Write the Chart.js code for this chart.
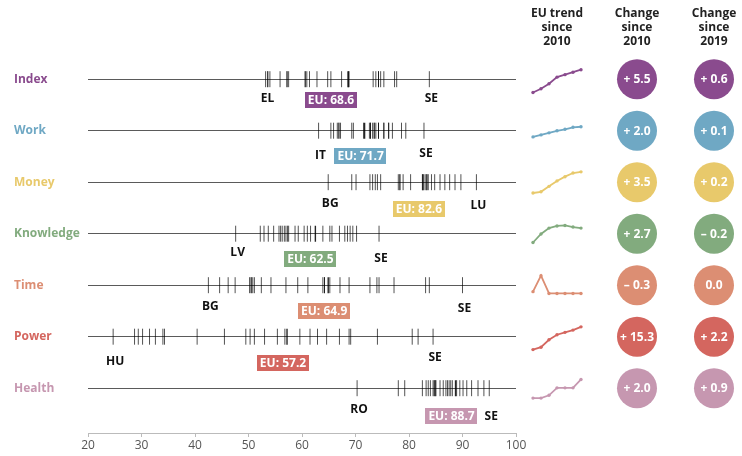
<!DOCTYPE html>
<html>
<head>
<meta charset="utf-8">
<script src="https://cdn.jsdelivr.net/npm/chart.js@4.4.1/dist/chart.umd.min.js"></script>
<style>
  body { margin: 0; background: #fff; }
  #wrap { position: relative; width: 742px; height: 456px; }
  #wrap canvas { position: absolute; }
</style>
</head>
<body>
<div id="wrap">
  <canvas id="strip" width="742" height="456" style="left:0;top:0"></canvas>
  <canvas id="circles" width="222" height="456" style="left:520px;top:0"></canvas>
</div>
<script>
// domains (rows) and their colours
var domains = ["Index", "Work", "Money", "Knowledge", "Time", "Power", "Health"];
var colors = ["#8a4b8e", "#6fa8c4", "#e8c96b", "#82ab7e", "#dc8e73", "#d4665f", "#c697b0"];

// member state scores per domain
var indexScores = [53.2, 53.6, 53.6, 54.0, 55.9, 57.2, 57.2, 57.5, 60.6, 60.6, 60.9, 61.4, 62.8, 64.8,
  65.4, 67.4, 68.7, 68.8, 73.3, 73.8, 74.3, 74.3, 74.7, 75.3, 77.3, 77.7, 83.8];
var workScores = [63.1, 65.4, 65.9, 66.6, 66.9, 66.9, 67.2, 69.3, 69.6, 71.5, 72.6, 72.8, 72.8, 73.2,
  73.5, 73.5, 73.8, 74.3, 74.3, 75.3, 75.3, 76.2, 76.2, 76.9, 78.6, 79.4, 82.8];
var moneyScores = [64.9, 69.3, 70.1, 72.7, 73.2, 73.7, 74.1, 74.7, 78.0, 78.3, 78.3, 78.9, 80.3, 82.5,
  82.8, 83.2, 83.2, 83.4, 83.6, 84.2, 84.8, 85.8, 86.7, 87.6, 88.6, 89.7, 92.6];
var knowledgeScores = [47.6, 52.2, 52.9, 53.7, 54.7, 55.7, 56.0, 56.3, 56.7, 57.0, 57.3, 57.5, 58.7, 59.3,
  60.4, 61.0, 61.6, 63.9, 65.2, 65.6, 67.0, 68.0, 68.5, 69.0, 69.5, 70.2, 74.4];
var timeScores = [42.5, 44.6, 46.2, 47.5, 50.2, 50.5, 50.5, 50.8, 51.1, 52.4, 54.2, 57.0, 59.2, 61.1,
  63.9, 64.2, 64.2, 65.2, 67.1, 68.8, 72.7, 74.0, 74.4, 77.2, 83.1, 83.8, 90.0];
var powerScores = [24.7, 28.7, 29.4, 30.2, 31.5, 32.6, 34.0, 34.3, 40.4, 45.5, 49.5, 50.3, 51.1, 53.0,
  55.4, 56.8, 59.6, 61.5, 62.9, 64.6, 67.0, 68.8, 69.1, 74.1, 80.6, 81.7, 84.5];
var healthScores = [70.3, 78.0, 79.2, 82.5, 83.2, 83.6, 84.0, 84.5, 84.7, 84.8, 85.0, 85.0, 85.8, 86.4,
  86.9, 87.2, 87.5, 87.8, 88.1, 88.9, 89.5, 90.1, 90.8, 91.7, 92.9, 94.0, 95.0];
var scores = [indexScores, workScores, moneyScores, knowledgeScores, timeScores, powerScores, healthScores];

var euScore = [68.6, 71.7, 82.6, 62.5, 64.9, 57.2, 88.7];
var lowest = ["EL", "IT", "BG", "LV", "BG", "HU", "RO"];
var highest = ["SE", "SE", "LU", "SE", "SE", "SE", "SE"];

// EU trend since 2010
var years = ["2010", "2012", "2015", "2017", "2018", "2019", "2020"];
var indexTrend = [63.1, 64.0, 65.2, 66.8, 67.4, 68.0, 68.6];
var workTrend = [69.7, 70.1, 70.5, 70.9, 71.2, 71.6, 71.7];
var moneyTrend = [79.1, 79.3, 80.2, 81.1, 81.8, 82.4, 82.6];
var knowledgeTrend = [59.8, 61.4, 62.5, 62.9, 63.0, 62.7, 62.5];
var timeTrend = [65.2, 67.9, 64.9, 64.9, 64.9, 64.9, 64.9];
var powerTrend = [41.9, 43.5, 48.5, 51.9, 53.5, 55.0, 57.2];
var healthTrend = [86.7, 86.7, 87.0, 87.8, 87.8, 87.8, 88.7];
var trends = [indexTrend, workTrend, moneyTrend, knowledgeTrend, timeTrend, powerTrend, healthTrend];

var change2010 = [5.5, 2.0, 3.5, 2.7, -0.3, 15.3, 2.0];
var change2019 = [0.6, 0.1, 0.2, -0.2, 0.0, 2.2, 0.9];

Chart.defaults.font.family = "'Open Sans', sans-serif";
Chart.defaults.font.size = 12;

// label nudges (px) below each strip
var lowDy = [19, 25, 21, 19, 21, 25, 21];
var highDy = [19, 23, 23, 25, 23, 21, 28];
var euDy = [21, 25, 27, 25, 26, 26, 28];
var euDx = [-17, -4, -4, -5, -4, -4, -4];

// y range shared by strip and circles so the rows line up
var rowMin = -1, rowMax = 6.87, padTop = 27.7, axisH = 23;

var stripLabels = {
  id: "stripLabels",
  afterDatasetsDraw: function (chart) {
    var ctx = chart.ctx, xs = chart.scales.x, ys = chart.scales.y;
    ctx.save();
    ctx.font = "bold 12px 'Open Sans'";
    ctx.textAlign = "center";
    ctx.textBaseline = "middle";
    for (var i = 0; i < domains.length; i++) {
      var yy = ys.getPixelForValue(i);
      var lo = Math.min.apply(null, scores[i]);
      var hi = Math.max.apply(null, scores[i]);
      ctx.fillStyle = "#111";
      ctx.fillText(lowest[i], xs.getPixelForValue(lo) + 2, yy + lowDy[i]);
      ctx.fillText(highest[i], xs.getPixelForValue(hi) + 2, yy + highDy[i]);

      var t = "EU: " + euScore[i].toFixed(1);
      var w = ctx.measureText(t).width + 6;
      var cx = xs.getPixelForValue(euScore[i]) + euDx[i];
      var cy = yy + euDy[i];
      ctx.fillStyle = colors[i];
      ctx.fillRect(Math.round(cx - w / 2), Math.round(cy - 8), Math.round(w), 16);
      ctx.fillStyle = "#fff";
      ctx.fillText(t, cx, cy + 0.5);
    }
    ctx.restore();
  }
};

var datasets = [];
for (var i = 0; i < domains.length; i++) {
  datasets.push({
    label: domains[i],
    data: scores[i].map(function (v) { return { x: v, y: i }; }),
    pointStyle: "line",
    pointRotation: 90,
    pointRadius: 8,
    pointBorderWidth: 1,
    pointBorderColor: "rgba(0,0,0,0.68)"
  });
}
datasets.push({
  label: "EU",
  data: euScore.map(function (v, i) { return { x: v, y: i }; }),
  pointStyle: "line",
  pointRotation: 90,
  pointRadius: 8,
  pointBorderWidth: 1.4,
  pointBorderColor: "rgba(0,0,0,0.85)"
});

var strip = new Chart(document.getElementById("strip"), {
  type: "scatter",
  data: { datasets: datasets },
  options: {
    responsive: false,
    animation: false,
    events: [],
    layout: { padding: { left: 14, top: padTop, right: 226, bottom: 0 } },
    scales: {
      x: {
        type: "linear",
        min: 20,
        max: 100,
        afterFit: function (s) { s.height = axisH; },
        border: { display: true, color: "#bbb" },
        grid: { drawOnChartArea: false, drawTicks: true, tickLength: 4, color: "#bbb" },
        ticks: { stepSize: 10, color: "#555", padding: 1, maxRotation: 0, autoSkip: false }
      },
      y: {
        type: "linear",
        reverse: true,
        min: rowMin,
        max: rowMax,
        afterBuildTicks: function (s) {
          s.ticks = domains.map(function (d, i) { return { value: i }; });
        },
        afterFit: function (s) { s.width = 74; },
        border: { display: false },
        grid: { color: "#5a5a5a", lineWidth: 1, drawTicks: false },
        ticks: {
          crossAlign: "far",
          padding: 0,
          font: { weight: "bold", size: 12 },
          color: function (c) { return colors[c.index]; },
          callback: function (v, idx) { return domains[idx]; }
        }
      }
    },
    plugins: { legend: { display: false }, tooltip: { enabled: false } }
  },
  plugins: [stripLabels]
});

// sparklines, one small chart per row
var sparkRange = [[61.05, 71.66], [66.53, 75.2], [77.28, 84.56], [57.27, 65.52],
  [62.61, 70.04], [35.6, 65.15], [85.42, 90.15]];
var wrap = document.getElementById("wrap");
trends.forEach(function (vals, i) {
  var c = document.createElement("canvas");
  c.width = 60;
  c.height = 52;
  c.style.left = "528px";
  c.style.top = (strip.scales.y.getPixelForValue(i) - 26) + "px";
  wrap.appendChild(c);
  new Chart(c, {
    type: "line",
    data: {
      labels: years,
      datasets: [{
        data: vals,
        borderColor: colors[i],
        backgroundColor: colors[i],
        borderWidth: 1.8,
        pointRadius: 1.7,
        pointBorderWidth: 0,
        tension: 0,
        clip: false
      }]
    },
    options: {
      responsive: false,
      animation: false,
      events: [],
      layout: { padding: { left: 5, right: 7, top: 0, bottom: 0 } },
      scales: {
        x: { display: false },
        y: { display: false, min: sparkRange[i][0], max: sparkRange[i][1] }
      },
      plugins: { legend: { display: false }, tooltip: { enabled: false } }
    }
  });
});

// change circles + column headers
function fmt(v) {
  if (v > 0) return "+ " + v.toFixed(1);
  if (v < 0) return "\u2013 " + Math.abs(v).toFixed(1);
  return "0.0";
}
var headers = [["EU trend", "since", "2010"], ["Change", "since", "2010"], ["Change", "since", "2019"]];

var circleText = {
  id: "circleText",
  afterDatasetsDraw: function (chart) {
    var ctx = chart.ctx, xs = chart.scales.x, ys = chart.scales.y;
    ctx.save();
    ctx.textAlign = "center";
    ctx.textBaseline = "middle";
    ctx.font = "bold 12px 'Open Sans'";
    ctx.fillStyle = "#222";
    var hx = [37, xs.getPixelForValue(0), xs.getPixelForValue(1)];
    headers.forEach(function (lines, j) {
      lines.forEach(function (l, k) { ctx.fillText(l, hx[j], 14 + k * 14); });
    });
    ctx.fillStyle = "#fff";
    for (var i = 0; i < domains.length; i++) {
      var yy = ys.getPixelForValue(i) + 0.5;
      ctx.fillText(fmt(change2010[i]), xs.getPixelForValue(0), yy);
      ctx.fillText(fmt(change2019[i]), xs.getPixelForValue(1), yy);
    }
    ctx.restore();
  }
};

new Chart(document.getElementById("circles"), {
  type: "scatter",
  data: {
    datasets: [
      {
        data: change2010.map(function (v, i) { return { x: 0, y: i }; }),
        pointBackgroundColor: colors,
        pointRadius: 20,
        pointBorderWidth: 0,
        clip: false
      },
      {
        data: change2019.map(function (v, i) { return { x: 1, y: i }; }),
        pointBackgroundColor: colors,
        pointRadius: 20,
        pointBorderWidth: 0,
        clip: false
      }
    ]
  },
  options: {
    responsive: false,
    animation: false,
    events: [],
    layout: { padding: { left: 117, right: 28, top: padTop, bottom: axisH } },
    scales: {
      x: { display: false, min: 0, max: 1 },
      y: { display: false, reverse: true, min: rowMin, max: rowMax }
    },
    plugins: { legend: { display: false }, tooltip: { enabled: false } }
  },
  plugins: [circleText]
});
</script>
</body>
</html>
